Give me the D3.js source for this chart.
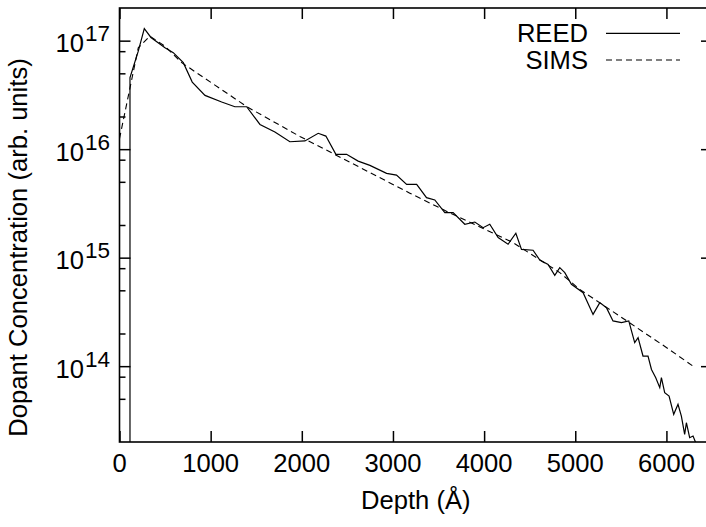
<!DOCTYPE html>
<html>
<head>
<meta charset="utf-8">
<script src="https://cdn.jsdelivr.net/npm/d3@7"></script>
<style>
  body { margin: 0; background: #fff; }
  svg { display: block; }
  text { font-family: "Liberation Sans", Arial, Helvetica, sans-serif; fill: #000; }
</style>
</head>
<body>
<div id="chart"></div>
<script>
// REED profile (depth in Angstrom, concentration in arb. units)
const reedDepth = [115, 115, 206, 272, 345, 499, 590, 700, 798, 938, 1121, 1266, 1395, 1541, 1705, 1869,
    2034, 2180, 2264, 2374, 2491, 2618, 2747, 2930, 3039, 3150, 3260, 3368, 3459, 3569, 3660, 3788,
    3898, 3989, 4062, 4154, 4263, 4348, 4410, 4537, 4611, 4702, 4775, 4830, 4885, 4958, 5086, 5195,
    5269, 5342, 5414, 5507, 5587, 5652, 5689, 5743, 5798, 5836, 5883, 5927, 5945, 5981, 6029, 6080,
    6127, 6164, 6200, 6219, 6255, 6292, 6343];
const reedConc = [1e12, 4.56e16, 8.0e16, 1.29e17, 1.07e17, 8.6e16, 7.75e16, 6.27e16, 4.15e16, 3.13e16, 2.72e16,
    2.46e16, 2.46e16, 1.69e16, 1.44e16, 1.17e16, 1.19e16, 1.40e16, 1.32e16, 8.96e15, 8.96e15, 7.76e15,
    7.09e15, 5.98e15, 5.77e15, 4.74e15, 4.74e15, 3.57e15, 3.40e15, 2.60e15, 2.60e15, 2.03e15, 2.13e15,
    1.89e15, 2.03e15, 1.53e15, 1.33e15, 1.68e15, 1.19e15, 1.17e15, 9.5e14, 8.67e14, 6.87e14, 8.09e14,
    7.28e14, 5.68e14, 4.76e14, 3.00e14, 3.85e14, 3.46e14, 2.61e14, 2.52e14, 2.61e14, 1.65e14, 1.83e14,
    1.24e14, 1.24e14, 9.33e13, 7.83e13, 6.34e13, 7.83e13, 5.70e13, 5.30e13, 3.60e13, 4.45e13, 3.47e13,
    2.35e13, 3.01e13, 2.19e13, 2.27e13, 1.78e13];

// SIMS profile
const simsDepth = [0, 206, 334, 499, 682, 1398, 1979, 3185, 3591, 4315, 4830, 5049, 6003, 6292];
const simsConc = [1.25e16, 8.6e16, 1.10e17, 8.9e16, 6.27e16, 2.46e16, 1.31e16, 3.93e15, 2.67e15,
    1.38e15, 7.28e14, 5.10e14, 1.48e14, 1.0e14];

const xTicks = [0, 1000, 2000, 3000, 4000, 5000, 6000];
const yMajor = [1e14, 1e15, 1e16, 1e17];
const yMinor = [5e13, 8e13, 2e14, 5e14, 8e14, 2e15, 5e15, 8e15, 2e16, 5e16, 8e16];
const seriesNames = ["REED", "SIMS"];

const width = 706;
const height = 527;
const plotLeft = 119.5, plotRight = 712, plotTop = 8, plotBottom = 442;
const fontSize = 25.6;

const svg = d3.select("#chart")
    .append("svg")
    .attr("width", width)
    .attr("height", height);

const xScale = d3.scaleLinear().domain([0, 6500]).range([plotLeft, plotRight]);
const yScale = d3.scaleLog().domain([2e13, 2e17]).range([plotBottom, plotTop]);

svg.append("defs").append("clipPath").attr("id", "plotclip")
    .append("rect")
    .attr("x", plotLeft).attr("y", plotTop)
    .attr("width", plotRight - plotLeft).attr("height", plotBottom - plotTop);

// ticks on all four sides, pointing inward
const majorLen = 11, minorLen = 6;

svg.append("g")
    .attr("transform", "translate(0," + plotBottom + ")")
    .call(d3.axisTop(xScale).tickValues(xTicks).tickSize(majorLen).tickFormat(""))
    .call(g => g.select(".domain").remove());
svg.append("g")
    .attr("transform", "translate(0," + plotTop + ")")
    .call(d3.axisBottom(xScale).tickValues(xTicks).tickSize(majorLen).tickFormat(""))
    .call(g => g.select(".domain").remove());

svg.append("g")
    .attr("transform", "translate(" + plotLeft + ",0)")
    .call(d3.axisRight(yScale).tickValues(yMajor).tickSize(majorLen).tickFormat(""))
    .call(g => g.select(".domain").remove());
svg.append("g")
    .attr("transform", "translate(" + plotLeft + ",0)")
    .call(d3.axisRight(yScale).tickValues(yMinor).tickSize(minorLen).tickFormat(""))
    .call(g => g.select(".domain").remove());
svg.append("g")
    .attr("transform", "translate(" + plotRight + ",0)")
    .call(d3.axisLeft(yScale).tickValues(yMajor).tickSize(majorLen).tickFormat(""))
    .call(g => g.select(".domain").remove());
svg.append("g")
    .attr("transform", "translate(" + plotRight + ",0)")
    .call(d3.axisLeft(yScale).tickValues(yMinor).tickSize(minorLen).tickFormat(""))
    .call(g => g.select(".domain").remove());

svg.selectAll(".tick line").attr("stroke", "#000").attr("stroke-width", 1.5);

// frame
svg.append("rect")
    .attr("x", plotLeft).attr("y", plotTop)
    .attr("width", plotRight - plotLeft).attr("height", plotBottom - plotTop)
    .attr("fill", "none")
    .attr("stroke", "#000")
    .attr("stroke-width", 1.6);

// x tick labels
svg.append("g").selectAll("text")
    .data(xTicks)
    .enter().append("text")
    .attr("x", d => xScale(d))
    .attr("y", plotBottom + 30)
    .attr("text-anchor", "middle")
    .attr("font-size", fontSize + "px")
    .text(d => d);

// y tick labels 10^n
const yLab = svg.append("g").selectAll("text")
    .data(yMajor)
    .enter().append("text")
    .attr("x", plotLeft - 9.5)
    .attr("y", d => yScale(d) + 11.7)
    .attr("text-anchor", "end")
    .attr("font-size", fontSize + "px");
yLab.append("tspan").text("10");
yLab.append("tspan")
    .attr("dx", 1)
    .attr("dy", -11)
    .attr("font-size", "22.5px")
    .text(d => Math.round(Math.log10(d)));

// axis titles
svg.append("text")
    .attr("x", (plotLeft + plotRight) / 2)
    .attr("y", 509)
    .attr("text-anchor", "middle")
    .attr("font-size", fontSize + "px")
    .text("Depth (Å)");

svg.append("text")
    .attr("transform", "translate(27," + 247.5 + ") rotate(-90)")
    .attr("text-anchor", "middle")
    .attr("font-size", fontSize + "px")
    .text("Dopant Concentration (arb. units)");

// curves
const line = d3.line()
    .x(d => xScale(d[0]))
    .y(d => yScale(d[1]));

const plot = svg.append("g").attr("clip-path", "url(#plotclip)");

plot.append("path")
    .datum(simsDepth.map((d, i) => [d, simsConc[i]]))
    .attr("d", line)
    .attr("fill", "none")
    .attr("stroke", "#000")
    .attr("stroke-width", 1.1)
    .attr("stroke-dasharray", "6,4");

plot.append("path")
    .datum(reedDepth.map((d, i) => [d, reedConc[i]]))
    .attr("d", line)
    .attr("fill", "none")
    .attr("stroke", "#000")
    .attr("stroke-width", 1.2);

// legend
const legend = svg.append("g");
seriesNames.forEach(function (name, i) {
    const ly = 33.3 + i * 26.7;
    legend.append("text")
        .attr("x", 588)
        .attr("y", ly + 8.5)
        .attr("text-anchor", "end")
        .attr("font-size", fontSize + "px")
        .text(name);
    legend.append("line")
        .attr("x1", 606).attr("x2", 680)
        .attr("y1", ly).attr("y2", ly)
        .attr("stroke", "#000")
        .attr("stroke-width", i === 0 ? 1.2 : 1.1)
        .attr("stroke-dasharray", i === 0 ? null : "6,4");
});
</script>
</body>
</html>
